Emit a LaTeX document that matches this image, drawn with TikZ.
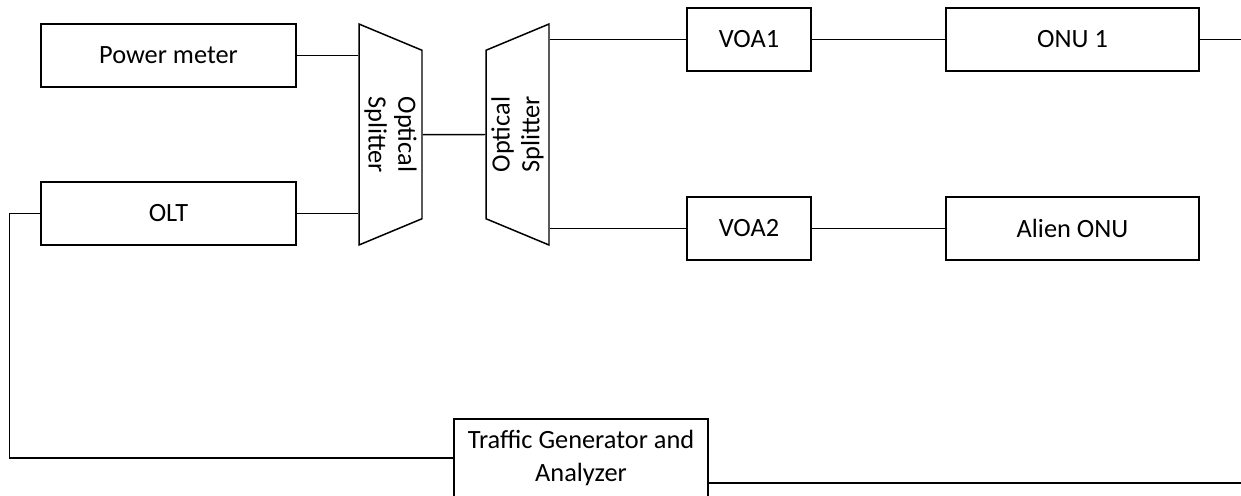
\documentclass[tikz,border=0pt]{standalone}
\usepackage{fontspec}
\setmainfont{Carlito}
\usetikzlibrary{calc,positioning,shapes.geometric}
\usepackage{xcolor}
\definecolor{linkColor}{RGB}{0,0,0}
\newcommand{\boxfont}{\fontsize{15}{19}\selectfont}
\newcommand{\splitfont}{\fontsize{15}{17}\selectfont}

\begin{document}
\begin{tikzpicture}[x=0.02cm, y=-0.02cm,
        dev/.style={draw, line width=0.85pt, minimum width=5.1cm, minimum height=1.26cm, inner sep=0pt, align=center, font=\boxfont},
        voa/.style={dev, minimum width=2.48cm},
        splitter/.style={draw, line width=0.85pt, trapezium, trapezium left angle=63.4, trapezium right angle=63.4, trapezium stretches body, minimum width=4.42cm, minimum height=1.26cm, inner sep=0pt, align=center, font=\splitfont},
        link/.style={line width=0.85pt, linkColor}
      ]
      \useasboundingbox (0,0) rectangle (1241,495);
      \node[dev] (pm) at (168.5,55.5) {Power meter};
      \node[dev] (olt) at (168.5,213.5) {OLT};
      \node[splitter, rotate=-90] (splL) at (390.5,134.5) {Optical\\ Splitter};
      \node[splitter, rotate=90] (splR) at (517.5,134.5) {Optical\\ Splitter};
      \node[voa] (voa1) at (749,39.5) {VOA1};
      \node[voa] (voa2) at (749,228.5) {VOA2};
      \node[dev, minimum width=5.06cm] (onu1) at (1072.5,39.5) {ONU 1};
      \node[dev, minimum width=5.06cm] (alien) at (1072.5,228.5) {Alien ONU};
      \node[dev, minimum width=5.08cm, minimum height=1.56cm] (tg) at (581,458) {Traffic Generator and\\ Analyzer};
      \coordinate (onuEnd) at (1241,39.5);
      \coordinate (tgEnd) at (1241,483);

      \draw[link] (pm.east) -- (pm.east -| splL.south);
      \draw[link] (olt.east) -- (olt.east -| splL.south);
      \draw[link] (splL.north) -- (splR.north);
      \draw[link] (splR.south |- voa1.west) -- (voa1.west);
      \draw[link] (splR.south |- voa2.west) -- (voa2.west);
      \draw[link] (voa1) -- (onu1);
      \draw[link] (voa2) -- (alien);
      \draw[link] (onu1.east) -- (onuEnd);
      \draw[link] (olt.west) -- ++(-31,0) |- (tg.west);
      \draw[link] (tgEnd -| tg.east) -- (tgEnd);
    \end{tikzpicture}
\end{document}
